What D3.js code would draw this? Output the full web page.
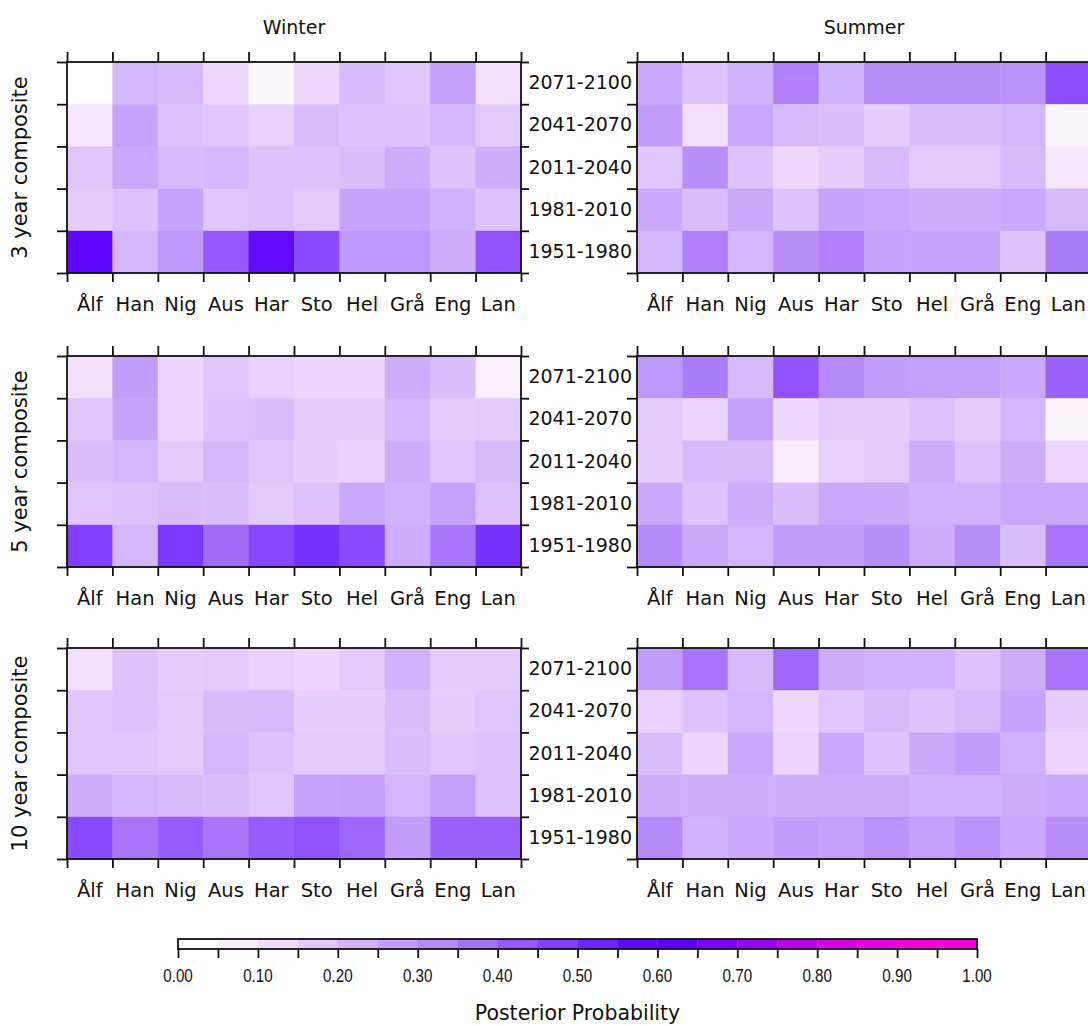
<!DOCTYPE html>
<html>
<head>
<meta charset="utf-8">
<script src="https://cdn.jsdelivr.net/npm/d3@7"></script>
<style>
  body { margin: 0; background: #ffffff; }
  svg { display: block; }
</style>
</head>
<body>
<svg id="chart" width="1088" height="1026"></svg>
<script>
// Stations (columns) and 30-year periods (rows, top to bottom)
const stations = ["Ålf", "Han", "Nig", "Aus", "Har", "Sto", "Hel", "Grå", "Eng", "Lan"];
const periods = ["2071-2100", "2041-2070", "2011-2040", "1981-2010", "1951-1980"];
const seasons = ["Winter", "Summer"];
const composites = ["3 year composite", "5 year composite", "10 year composite"];

// Posterior probabilities, one row per period
const winter3 = [
  [0.00, 0.20, 0.19, 0.11, 0.02, 0.11, 0.19, 0.16, 0.25, 0.09],
  [0.07, 0.24, 0.17, 0.16, 0.13, 0.18, 0.17, 0.17, 0.20, 0.15],
  [0.16, 0.23, 0.19, 0.20, 0.17, 0.17, 0.18, 0.22, 0.17, 0.22],
  [0.14, 0.17, 0.24, 0.16, 0.17, 0.15, 0.24, 0.24, 0.21, 0.17],
  [0.57, 0.20, 0.27, 0.40, 0.55, 0.43, 0.27, 0.27, 0.22, 0.41]
];
const summer3 = [
  [0.23, 0.17, 0.21, 0.32, 0.21, 0.29, 0.29, 0.29, 0.28, 0.42],
  [0.26, 0.09, 0.23, 0.19, 0.18, 0.14, 0.18, 0.18, 0.20, 0.03],
  [0.16, 0.29, 0.17, 0.11, 0.14, 0.19, 0.15, 0.15, 0.19, 0.07],
  [0.23, 0.18, 0.23, 0.17, 0.24, 0.23, 0.22, 0.22, 0.23, 0.19],
  [0.20, 0.32, 0.20, 0.29, 0.32, 0.24, 0.24, 0.24, 0.17, 0.33]
];
const winter5 = [
  [0.09, 0.26, 0.12, 0.16, 0.13, 0.12, 0.12, 0.22, 0.18, 0.05],
  [0.16, 0.24, 0.12, 0.17, 0.18, 0.14, 0.14, 0.20, 0.14, 0.15],
  [0.18, 0.20, 0.15, 0.20, 0.16, 0.14, 0.13, 0.22, 0.16, 0.19],
  [0.16, 0.17, 0.18, 0.18, 0.15, 0.17, 0.23, 0.21, 0.24, 0.17],
  [0.46, 0.20, 0.47, 0.36, 0.44, 0.48, 0.43, 0.22, 0.34, 0.48]
];
const summer5 = [
  [0.27, 0.33, 0.19, 0.41, 0.30, 0.26, 0.25, 0.25, 0.23, 0.38],
  [0.15, 0.12, 0.25, 0.11, 0.15, 0.14, 0.17, 0.14, 0.20, 0.03],
  [0.14, 0.19, 0.19, 0.06, 0.13, 0.15, 0.22, 0.17, 0.22, 0.11],
  [0.23, 0.17, 0.22, 0.18, 0.23, 0.23, 0.21, 0.21, 0.23, 0.23],
  [0.30, 0.23, 0.20, 0.26, 0.26, 0.29, 0.22, 0.29, 0.18, 0.34]
];
const winter10 = [
  [0.09, 0.17, 0.14, 0.15, 0.13, 0.12, 0.15, 0.21, 0.14, 0.14],
  [0.16, 0.17, 0.15, 0.19, 0.19, 0.14, 0.14, 0.18, 0.14, 0.16],
  [0.16, 0.16, 0.15, 0.20, 0.17, 0.15, 0.15, 0.18, 0.16, 0.17],
  [0.22, 0.20, 0.19, 0.18, 0.16, 0.24, 0.25, 0.20, 0.25, 0.17],
  [0.43, 0.34, 0.39, 0.34, 0.39, 0.41, 0.37, 0.26, 0.38, 0.38]
];
const summer10 = [
  [0.26, 0.34, 0.19, 0.37, 0.22, 0.21, 0.21, 0.17, 0.22, 0.34],
  [0.13, 0.17, 0.20, 0.11, 0.16, 0.19, 0.17, 0.19, 0.24, 0.14],
  [0.18, 0.12, 0.23, 0.12, 0.23, 0.17, 0.23, 0.26, 0.21, 0.12],
  [0.22, 0.22, 0.22, 0.22, 0.22, 0.22, 0.21, 0.21, 0.22, 0.23],
  [0.30, 0.21, 0.23, 0.26, 0.25, 0.28, 0.25, 0.28, 0.23, 0.29]
];

// Colour ramp for the probability scale
const rampStops = [0.00, 0.05, 0.10, 0.15, 0.20, 0.25, 0.30, 0.35, 0.40, 0.45, 0.50,
                   0.55, 0.60, 0.65, 0.70, 0.75, 0.80, 0.85, 0.90, 0.95, 1.00];
const rampColors = ["#ffffff", "#fbeefc", "#f0dcfc", "#e3cafc", "#d4b6fc", "#c4a0fb",
                    "#b68af9", "#a472f9", "#9456fd", "#8442ff", "#6e26ff", "#6208ff",
                    "#5c00ff", "#7800fa", "#9c00f0", "#bc00e8", "#d800e2", "#e900de",
                    "#f500de", "#fb00e0", "#ff00e4"];
const colorTicks = [0, 0.1, 0.2, 0.3, 0.4, 0.5, 0.6, 0.7, 0.8, 0.9, 1.0];

const grid = [
  [winter3, summer3],
  [winter5, summer5],
  [winter10, summer10]
];

const color = d3.scaleLinear()
  .domain(rampStops)
  .range(rampColors)
  .interpolate(d3.interpolateRgb)
  .clamp(true);

const svg = d3.select("#chart");
const font = "'DejaVu Sans', sans-serif";

const panelW = 454, panelH = 211;
const colLeft = [67, 637];
const rowTop = [62, 356, 648];

const x = d3.scaleBand().domain(stations).range([0, panelW]);
const y = d3.scaleBand().domain(periods).range([0, panelH]);
const xEdge = d3.scaleLinear().domain([0, stations.length]).range([0, panelW]);
const yEdge = d3.scaleLinear().domain([0, periods.length]).range([0, panelH]);
const xEdgeTicks = d3.range(stations.length + 1);
const yEdgeTicks = d3.range(periods.length + 1);

function styleTicks(g) {
  g.select(".domain").remove();
  g.selectAll(".tick line").attr("stroke", "#111").attr("stroke-width", 1.8);
}

// Season titles
seasons.forEach((s, c) => {
  svg.append("text")
    .attr("x", colLeft[c] + panelW / 2)
    .attr("y", 34)
    .attr("text-anchor", "middle")
    .attr("font-family", font)
    .attr("font-size", 19)
    .attr("fill", "#111")
    .text(s);
});

grid.forEach((rowPanels, r) => {
  // Composite label on the left
  const cy = rowTop[r] + panelH / 2;
  svg.append("text")
    .attr("transform", `translate(27,${cy}) rotate(-90)`)
    .attr("text-anchor", "middle")
    .attr("font-family", font)
    .attr("font-size", 21)
    .attr("fill", "#111")
    .text(composites[r]);

  rowPanels.forEach((values, c) => {
    const g = svg.append("g").attr("transform", `translate(${colLeft[c]},${rowTop[r]})`);

    const cells = [];
    values.forEach((row, i) => row.forEach((v, j) => cells.push({ p: periods[i], s: stations[j], v })));

    g.selectAll("rect.cell")
      .data(cells)
      .join("rect")
      .attr("class", "cell")
      .attr("x", d => x(d.s))
      .attr("y", d => y(d.p))
      .attr("width", x.bandwidth() + 0.5)
      .attr("height", y.bandwidth() + 0.5)
      .attr("fill", d => color(d.v));

    g.append("rect")
      .attr("width", panelW)
      .attr("height", panelH)
      .attr("fill", "none")
      .attr("stroke", "#111")
      .attr("stroke-width", 1.8);

    // Outward ticks on all four sides at the cell edges
    g.append("g")
      .call(d3.axisTop(xEdge).tickValues(xEdgeTicks).tickSize(10).tickFormat(""))
      .call(styleTicks);
    g.append("g")
      .attr("transform", `translate(0,${panelH})`)
      .call(d3.axisBottom(xEdge).tickValues(xEdgeTicks).tickSize(9).tickFormat(""))
      .call(styleTicks);
    g.append("g")
      .call(d3.axisLeft(yEdge).tickValues(yEdgeTicks).tickSize(10).tickFormat(""))
      .call(styleTicks);
    g.append("g")
      .attr("transform", `translate(${panelW},0)`)
      .call(d3.axisRight(yEdge).tickValues(yEdgeTicks).tickSize(8).tickFormat(""))
      .call(styleTicks);

    // Station names under the panel
    const xl = g.append("g")
      .attr("transform", `translate(0,${panelH})`)
      .call(d3.axisBottom(x).tickSize(0).tickPadding(24));
    xl.select(".domain").remove();
    xl.selectAll("text")
      .attr("font-family", font)
      .attr("font-size", 19.5)
      .attr("fill", "#111");

    // Period labels sit to the left of the summer panels
    if (c === 1) {
      const yl = g.append("g")
        .call(d3.axisLeft(y).tickSize(0).tickPadding(5));
      yl.select(".domain").remove();
      yl.selectAll("text")
        .attr("font-family", font)
        .attr("font-size", 19)
        .attr("fill", "#111");
    }
  });
});

// Colour bar
const cb = { x0: 178, x1: 977, y: 939, h: 10 };
const cbx = d3.scaleLinear().domain([0, 1]).range([cb.x0, cb.x1]);
const bins = d3.range(20).map(i => i * 0.05);

svg.append("g")
  .selectAll("rect")
  .data(bins)
  .join("rect")
  .attr("x", d => cbx(d))
  .attr("y", cb.y)
  .attr("width", cbx(0.05) - cbx(0) + 0.3)
  .attr("height", cb.h)
  .attr("fill", d => color(d));

svg.append("rect")
  .attr("x", cb.x0)
  .attr("y", cb.y)
  .attr("width", cb.x1 - cb.x0)
  .attr("height", cb.h)
  .attr("fill", "none")
  .attr("stroke", "#111")
  .attr("stroke-width", 1.8);

svg.append("g")
  .attr("transform", `translate(0,${cb.y + cb.h})`)
  .call(d3.axisBottom(cbx).tickValues(d3.range(21).map(i => i * 0.05)).tickSize(9).tickFormat(""))
  .call(styleTicks);

const cbLabels = svg.append("g")
  .selectAll("g")
  .data(colorTicks)
  .join("g")
  .attr("transform", d => `translate(${cbx(d)},982) scale(0.8,1)`);
cbLabels.append("text")
  .attr("text-anchor", "middle")
  .attr("font-family", "'Liberation Sans', Arial, sans-serif")
  .attr("font-size", 19)
  .attr("fill", "#111")
  .text(d => d3.format(".2f")(d));

svg.append("text")
  .attr("x", cbx(0.5))
  .attr("y", 1020)
  .attr("text-anchor", "middle")
  .attr("font-family", font)
  .attr("font-size", 20.5)
  .attr("fill", "#111")
  .text("Posterior Probability");
</script>
</body>
</html>
